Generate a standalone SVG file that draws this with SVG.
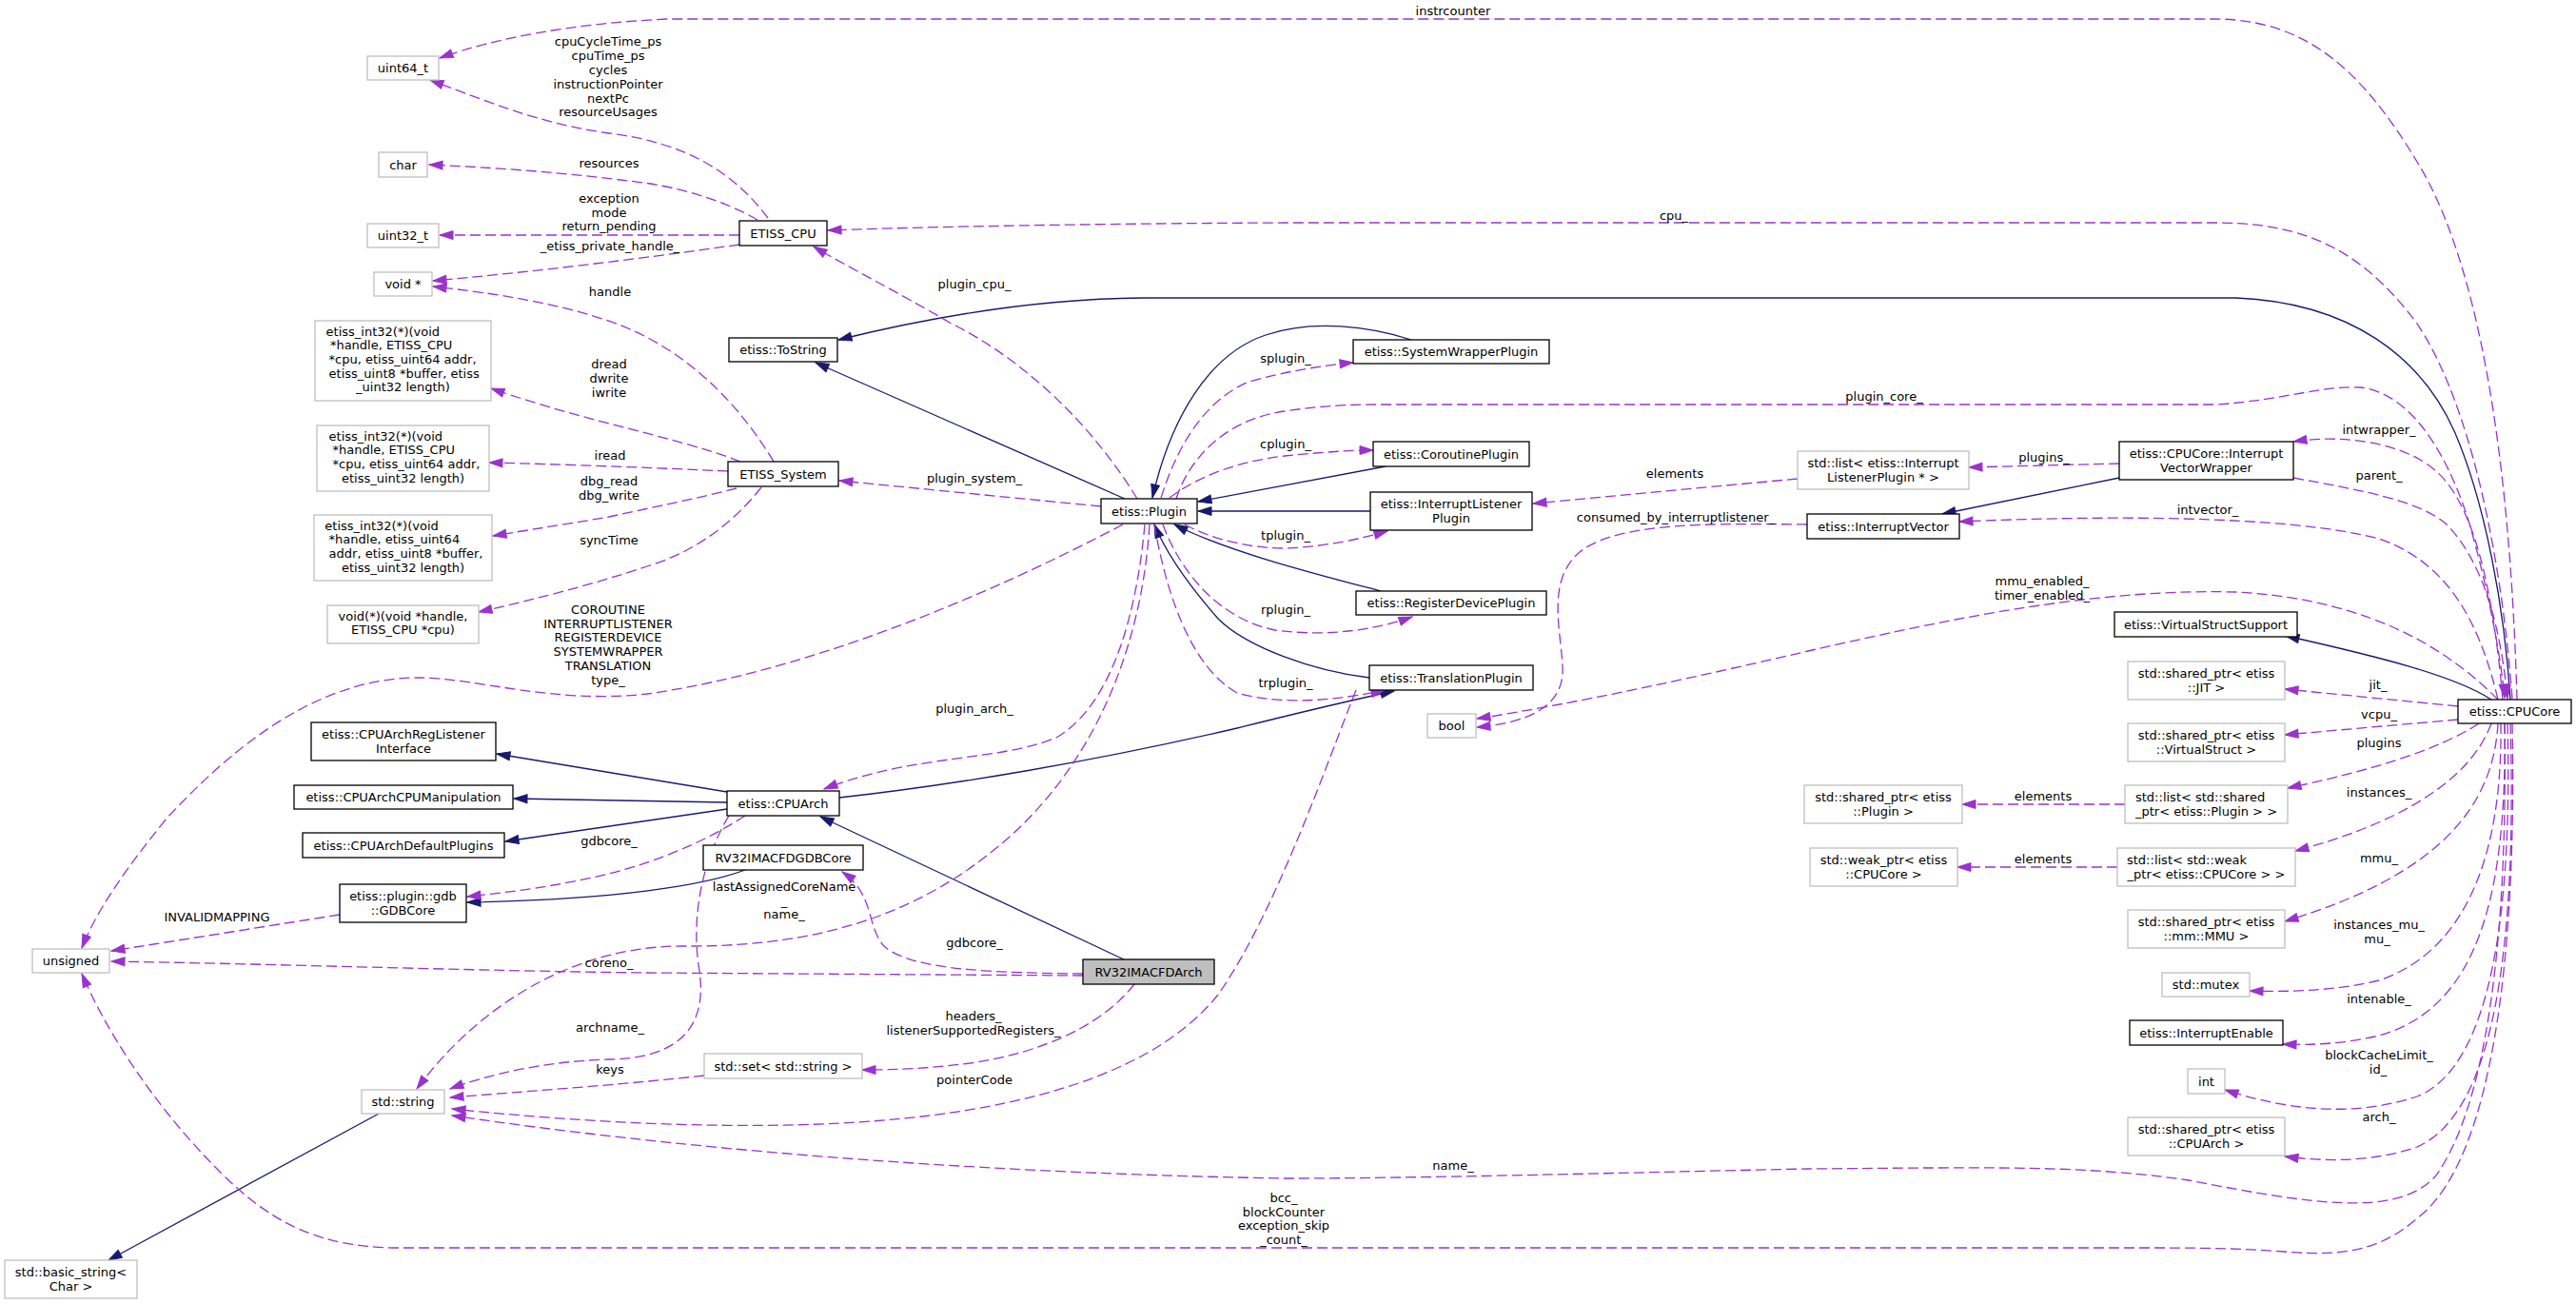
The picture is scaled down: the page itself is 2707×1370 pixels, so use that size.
<svg xmlns="http://www.w3.org/2000/svg" width="2707" height="1370" viewBox="0 0 2707 1370">
<defs>
<style>
text{font-family:"DejaVu Sans","Liberation Sans",sans-serif;font-size:13px;fill:#000}
.m{text-anchor:middle}
.nb{fill:#fff;stroke:#000;stroke-width:1.3}
.ng{fill:#fff;stroke:#bfbfbf;stroke-width:1.3}
.nh{fill:#bfbfbf;stroke:#000;stroke-width:1.3}
.u{fill:none;stroke:#9a32cd;stroke-width:1.3;stroke-dasharray:11,5;marker-end:url(#ap)}
.h{fill:none;stroke:#191970;stroke-width:1.3;marker-end:url(#ab)}
</style>
<marker id="ap" markerUnits="userSpaceOnUse" markerWidth="16" markerHeight="12" refX="14" refY="5" orient="auto" overflow="visible"><path d="M0,0.5 L14,5 L0,9.5 z" fill="#9a32cd" stroke="#9a32cd" stroke-width="1"/></marker>
<marker id="ab" markerUnits="userSpaceOnUse" markerWidth="16" markerHeight="12" refX="14" refY="5" orient="auto" overflow="visible"><path d="M0,0.5 L14,5 L0,9.5 z" fill="#191970" stroke="#191970" stroke-width="1"/></marker>
</defs>
<rect width="2707" height="1370" fill="#fff"/>
<g id="connectors">
<path class="h" d="M1182,524 L857,381"/>
<path class="h" d="M2638,735 C2632,640 2612,530 2580,455 C2545,375 2470,318 2350,313 L1200,313 C1100,314 990,330 881,357"/>
<path class="h" d="M1483,357 C1440,343 1380,335 1330,352 C1270,372 1230,440 1211,523"/>
<path class="h" d="M1456,490 L1259,527"/>
<path class="h" d="M1440,537 L1259,537"/>
<path class="h" d="M1451,621 C1390,605 1290,580 1234,551"/>
<path class="h" d="M1439,712 C1380,705 1310,680 1280,650 C1245,610 1225,580 1213,551"/>
<path class="h" d="M882,838 C1000,825 1150,800 1300,765 Q1400,740 1465,726"/>
<path class="h" d="M764,832 L522,792"/>
<path class="h" d="M764,843 L540,839"/>
<path class="h" d="M764,850 L531,884"/>
<path class="h" d="M1181,1008 L862,858"/>
<path class="h" d="M783,914 C740,930 650,945 491,948"/>
<path class="h" d="M398,1170 L114,1324"/>
<path class="h" d="M2227,502 L2041,540"/>
<path class="h" d="M2618,735 C2580,710 2500,690 2402,668"/>

<path class="u" d="M807,229 C770,180 720,150 640,140 C570,130 520,110 452,84"/>
<path class="u" d="M2645,735 C2640,560 2620,300 2540,170 C2480,70 2420,20 2327,20 L700,20 C600,25 520,40 462,61"/>
<path class="u" d="M796,231 C760,210 710,195 660,190 C600,182 520,176 451,173"/>
<path class="u" d="M777,247 L462,247"/>
<path class="u" d="M777,257 C720,265 600,282 455,295"/>
<path class="u" d="M813,485 C780,430 730,375 660,345 C600,320 520,308 455,301"/>
<path class="u" d="M778,485 C740,470 690,458 640,445 C590,432 550,420 516,408"/>
<path class="u" d="M765,495 C700,492 600,488 514,486"/>
<path class="u" d="M774,513 C740,522 690,532 640,543 C600,550 560,556 518,563"/>
<path class="u" d="M800,512 C770,550 730,580 680,595 C620,615 560,630 503,643"/>
<path class="u" d="M1195,524 C1150,450 1080,380 1000,340 C940,305 890,280 855,259"/>
<path class="u" d="M1157,532 L882,505"/>
<path class="u" d="M1220,523 C1240,460 1270,420 1310,402 C1350,390 1390,384 1422,381"/>
<path class="u" d="M1229,523 C1260,500 1300,485 1350,479 C1390,475 1420,473 1443,473"/>
<path class="u" d="M1236,524 C1250,480 1290,440 1350,432 C1390,426 1420,425 1450,425 L2330,425 C2400,420 2440,405 2480,407 C2530,412 2570,470 2595,550 C2615,620 2628,690 2632,733"/>
<path class="u" d="M1245,551 C1270,565 1310,576 1350,576 C1390,575 1430,566 1458,558"/>
<path class="u" d="M1222,551 C1240,600 1280,650 1340,662 C1400,670 1450,660 1484,648"/>
<path class="u" d="M1213,551 C1225,620 1250,700 1300,728 C1350,742 1410,735 1455,725"/>
<path class="u" d="M1180,551 C1040,625 850,705 680,729 C580,740 500,712 440,712 C330,712 240,790 175,860 C130,915 100,960 86,996"/>
<path class="u" d="M1203,551 C1195,640 1170,740 1110,775 C1050,800 960,792 866,829"/>
<path class="u" d="M1208,551 C1200,680 1150,800 1060,880 C980,950 880,995 720,994 C600,993 500,1060 438,1144"/>
<path class="u" d="M766,857 C740,900 725,960 735,1020 C745,1090 700,1112 640,1113 C570,1115 510,1130 473,1144"/>
<path class="u" d="M783,857 C740,885 690,905 640,918 C590,930 540,937 491,942"/>
<path class="u" d="M1138,1023 C1050,1022 960,1020 930,995 C910,975 920,940 885,916"/>
<path class="u" d="M1138,1025 L680,1022 C500,1020 300,1013 117,1010"/>
<path class="u" d="M1192,1034 C1160,1075 1100,1105 1020,1117 C970,1123 940,1124 906,1124"/>
<path class="u" d="M740,1130 C650,1140 560,1146 473,1153"/>
<path class="u" d="M1425,725 C1395,800 1340,960 1280,1045 C1220,1120 1100,1160 950,1175 C800,1190 620,1180 475,1165"/>
<path class="u" d="M2632,760 C2635,950 2620,1150 2560,1235 C2520,1280 2430,1265 2300,1240 C2200,1225 2100,1227 2020,1227 L1900,1228 C1700,1232 1500,1238 1350,1238 C1000,1232 700,1205 475,1172"/>
<path class="u" d="M2640,760 C2645,1000 2620,1220 2540,1280 C2500,1315 2460,1320 2400,1315 C2350,1311 2300,1311 2250,1311 L420,1311 C330,1311 280,1280 230,1230 C160,1160 110,1080 86,1023"/>
<path class="u" d="M357,961 L117,999"/>
<path class="u" d="M2640,734 C2630,600 2600,430 2540,340 C2480,260 2420,234 2327,234 L1350,234 C1150,235 980,238 870,242"/>
<path class="u" d="M2410,502 C2480,515 2540,525 2570,550 C2610,590 2628,660 2635,734"/>
<path class="u" d="M2630,735 C2620,620 2600,530 2560,495 C2530,468 2470,455 2410,464"/>
<path class="u" d="M2625,735 C2605,650 2570,590 2500,566 C2400,540 2200,542 2059,548"/>
<path class="u" d="M2625,735 C2580,690 2500,630 2350,622 C2200,618 2050,650 1900,684 C1780,712 1650,740 1552,755"/>
<path class="u" d="M1899,551 C1800,550 1700,548 1660,580 C1625,610 1640,660 1642,700 C1645,745 1600,760 1552,764"/>
<path class="u" d="M2227,487 L2069,491"/>
<path class="u" d="M1889,503 L1611,529"/>
<path class="u" d="M2583,742 L2401,724"/>
<path class="u" d="M2583,756 L2401,772"/>
<path class="u" d="M2605,760 C2560,790 2480,812 2404,828"/>
<path class="u" d="M2233,845 L2062,845"/>
<path class="u" d="M2618,760 C2600,810 2540,860 2412,894"/>
<path class="u" d="M2225,911 L2057,911"/>
<path class="u" d="M2625,760 C2620,850 2560,920 2401,968"/>
<path class="u" d="M2628,760 C2630,900 2590,1000 2500,1030 C2450,1042 2400,1042 2364,1041"/>
<path class="u" d="M2632,760 C2635,950 2600,1060 2500,1088 C2460,1097 2430,1098 2399,1097"/>
<path class="u" d="M2635,760 C2640,950 2620,1120 2540,1152 C2470,1175 2400,1165 2338,1145"/>
<path class="u" d="M2638,760 C2645,1000 2620,1170 2540,1205 C2490,1222 2440,1220 2401,1215"/>

<g class="m">
<text x="639" y="48">cpuCycleTime_ps</text>
<text x="639" y="63">cpuTime_ps</text>
<text x="639" y="78">cycles</text>
<text x="639" y="93">instructionPointer</text>
<text x="639" y="108">nextPc</text>
<text x="639" y="122">resourceUsages</text>
<text x="640" y="176">resources</text>
<text x="640" y="213">exception</text>
<text x="640" y="227.5">mode</text>
<text x="640" y="242">return_pending</text>
<text x="641" y="263">_etiss_private_handle_</text>
<text x="641" y="311">handle</text>
<text x="640" y="387">dread</text>
<text x="640" y="402">dwrite</text>
<text x="640" y="417">iwrite</text>
<text x="641" y="483">iread</text>
<text x="640" y="510">dbg_read</text>
<text x="640" y="525">dbg_write</text>
<text x="640" y="572">syncTime</text>
<text x="639" y="645">COROUTINE</text>
<text x="639" y="659.7">INTERRUPTLISTENER</text>
<text x="639" y="674.4">REGISTERDEVICE</text>
<text x="639" y="689.1">SYSTEMWRAPPER</text>
<text x="639" y="703.8">TRANSLATION</text>
<text x="639" y="718.5">type_</text>
<text x="640" y="888">gdbcore_</text>
<text x="228" y="968">INVALIDMAPPING</text>
<text x="640" y="1016">coreno_</text>
<text x="641" y="1084">archname_</text>
<text x="641" y="1128">keys</text>
<text x="1024" y="303">plugin_cpu_</text>
<text x="1024" y="507">plugin_system_</text>
<text x="1024" y="749">plugin_arch_</text>
<text x="824" y="936">lastAssignedCoreName</text>
<text x="824" y="950.7">_</text>
<text x="824" y="965.4">name_</text>
<text x="1024" y="995">gdbcore_</text>
<text x="1023" y="1072">headers_</text>
<text x="1023" y="1087">listenerSupportedRegisters_</text>
<text x="1024" y="1139">pointerCode</text>
<text x="1527" y="1229">name_</text>
<text x="1349" y="1263">bcc_</text>
<text x="1349" y="1277.7">blockCounter</text>
<text x="1349" y="1292.4">exception_skip</text>
<text x="1349" y="1307">_count_</text>
<text x="1527" y="16">instrcounter</text>
<text x="1759" y="231">cpu_</text>
<text x="1351" y="381">splugin_</text>
<text x="1980" y="421">plugin_core_</text>
<text x="1351" y="471">cplugin_</text>
<text x="1351" y="567">tplugin_</text>
<text x="1351" y="645">rplugin_</text>
<text x="1351" y="722">trplugin_</text>
<text x="1760" y="502">elements</text>
<text x="1761" y="548">consumed_by_interruptlistener_</text>
<text x="2500" y="456">intwrapper_</text>
<text x="2148" y="485">plugins_</text>
<text x="2500" y="504">parent_</text>
<text x="2320" y="540">intvector_</text>
<text x="2146" y="615">mmu_enabled_</text>
<text x="2146" y="630">timer_enabled_</text>
<text x="2499" y="724">jit_</text>
<text x="2500" y="755">vcpu_</text>
<text x="2500" y="785">plugins</text>
<text x="2147" y="841">elements</text>
<text x="2500" y="837">instances_</text>
<text x="2147" y="907">elements</text>
<text x="2500" y="906">mmu_</text>
<text x="2500" y="976">instances_mu_</text>
<text x="2498" y="991">mu_</text>
<text x="2500" y="1054">intenable_</text>
<text x="2500" y="1113">blockCacheLimit_</text>
<text x="2499" y="1128">id_</text>
<text x="2500" y="1178">arch_</text>
</g>
</g>

<g id="n_uint64"><rect class="ng" x="386" y="59" width="75" height="25"/><text class="m" x="423.5" y="76">uint64_t</text></g>
<g id="n_char"><rect class="ng" x="398" y="160" width="51" height="26"/><text class="m" x="423.5" y="177.5">char</text></g>
<g id="n_uint32"><rect class="ng" x="386" y="235" width="75" height="25"/><text class="m" x="423.5" y="252">uint32_t</text></g>
<g id="n_voidp"><rect class="ng" x="393" y="286" width="61" height="25"/><text class="m" x="423.5" y="303">void *</text></g>
<g id="n_fn1"><rect class="ng" x="331" y="337" width="185" height="84"/>
<text x="342.6" y="352.5">etiss_int32(*)(void</text>
<text x="346.9" y="367.2">*handle, ETISS_CPU</text>
<text x="345.6" y="381.9">*cpu, etiss_uint64 addr,</text>
<text x="345.6" y="396.6">etiss_uint8 *buffer, etiss</text>
<text class="m" x="423.5" y="411.3">_uint32 length)</text></g>
<g id="n_fn2"><rect class="ng" x="333" y="447" width="181" height="69"/>
<text x="345.6" y="462.5">etiss_int32(*)(void</text>
<text x="349.5" y="477.2">*handle, ETISS_CPU</text>
<text x="349.5" y="491.9">*cpu, etiss_uint64 addr,</text>
<text class="m" x="423.5" y="506.6">etiss_uint32 length)</text></g>
<g id="n_fn3"><rect class="ng" x="330" y="541" width="187" height="69"/>
<text x="341.3" y="556.5">etiss_int32(*)(void</text>
<text x="345.6" y="571.2">*handle, etiss_uint64</text>
<text x="345.6" y="585.9">addr, etiss_uint8 *buffer,</text>
<text class="m" x="423.5" y="600.6">etiss_uint32 length)</text></g>
<g id="n_fn4"><rect class="ng" x="344" y="636" width="159" height="40"/>
<text class="m" x="423.5" y="651.5">void(*)(void *handle,</text>
<text class="m" x="423.5" y="666.2">ETISS_CPU *cpu)</text></g>
<g id="n_reglist"><rect class="nb" x="327" y="759" width="194" height="40"/>
<text class="m" x="424" y="776">etiss::CPUArchRegListener</text>
<text class="m" x="424" y="790.7">Interface</text></g>
<g id="n_cpuman"><rect class="nb" x="309" y="825" width="230" height="25"/><text class="m" x="424" y="842">etiss::CPUArchCPUManipulation</text></g>
<g id="n_defplug"><rect class="nb" x="318" y="875" width="212" height="26"/><text class="m" x="424" y="892.5">etiss::CPUArchDefaultPlugins</text></g>
<g id="n_gdbcore"><rect class="nb" x="357" y="929" width="133" height="40"/>
<text class="m" x="423.5" y="946">etiss::plugin::gdb</text>
<text class="m" x="423.5" y="960.7">::GDBCore</text></g>
<g id="n_unsigned"><rect class="ng" x="34" y="997" width="81" height="25"/><text class="m" x="74.5" y="1014">unsigned</text></g>
<g id="n_string"><rect class="ng" x="380" y="1145" width="87" height="25"/><text class="m" x="423.5" y="1162">std::string</text></g>
<g id="n_basicstr"><rect class="ng" x="5" y="1324" width="139" height="40"/>
<text class="m" x="74.5" y="1341">std::basic_string&lt;</text>
<text class="m" x="74.5" y="1355.7">Char &gt;</text></g>
<g id="n_etisscpu"><rect class="nb" x="777" y="232" width="92" height="26"/><text class="m" x="823" y="249.5">ETISS_CPU</text></g>
<g id="n_tostring"><rect class="nb" x="766" y="355" width="114" height="25"/><text class="m" x="823" y="372">etiss::ToString</text></g>
<g id="n_system"><rect class="nb" x="765" y="485" width="116" height="26"/><text class="m" x="823" y="502.5">ETISS_System</text></g>
<g id="n_plugin"><rect class="nb" x="1157" y="524" width="101" height="26"/><text class="m" x="1207.5" y="541.5">etiss::Plugin</text></g>
<g id="n_cpuarch"><rect class="nb" x="764" y="831" width="118" height="26"/><text class="m" x="823" y="848.5">etiss::CPUArch</text></g>
<g id="n_rvgdb"><rect class="nb" x="739" y="888" width="168" height="26"/><text class="m" x="823" y="905.5">RV32IMACFDGDBCore</text></g>
<g id="n_rvarch"><rect class="nh" x="1138" y="1008" width="138" height="26"/><text class="m" x="1207" y="1025.5">RV32IMACFDArch</text></g>
<g id="n_set"><rect class="ng" x="740" y="1107" width="166" height="26"/><text class="m" x="823" y="1124.5">std::set&lt; std::string &gt;</text></g>
<g id="n_swp"><rect class="nb" x="1422" y="357" width="206" height="25"/><text class="m" x="1525" y="374">etiss::SystemWrapperPlugin</text></g>
<g id="n_corp"><rect class="nb" x="1443" y="464" width="164" height="26"/><text class="m" x="1525" y="481.5">etiss::CoroutinePlugin</text></g>
<g id="n_ilp"><rect class="nb" x="1440" y="517" width="170" height="40"/>
<text class="m" x="1525" y="534">etiss::InterruptListener</text>
<text class="m" x="1525" y="548.7">Plugin</text></g>
<g id="n_rdp"><rect class="nb" x="1425" y="621" width="200" height="25"/><text class="m" x="1525" y="638">etiss::RegisterDevicePlugin</text></g>
<g id="n_tp"><rect class="nb" x="1439" y="699" width="172" height="26"/><text class="m" x="1525" y="716.5">etiss::TranslationPlugin</text></g>
<g id="n_bool"><rect class="ng" x="1500" y="750" width="51" height="25"/><text class="m" x="1525.5" y="767">bool</text></g>
<g id="n_listilp"><rect class="ng" x="1889" y="474" width="180" height="40"/>
<text class="m" x="1979" y="491">std::list&lt; etiss::Interrupt</text>
<text class="m" x="1979" y="505.7">ListenerPlugin * &gt;</text></g>
<g id="n_iv"><rect class="nb" x="1899" y="540" width="160" height="26"/><text class="m" x="1979" y="557.5">etiss::InterruptVector</text></g>
<g id="n_spplug"><rect class="ng" x="1896" y="825" width="166" height="40"/>
<text class="m" x="1979" y="842">std::shared_ptr&lt; etiss</text>
<text class="m" x="1979" y="856.7">::Plugin &gt;</text></g>
<g id="n_wpcore"><rect class="ng" x="1902" y="891" width="155" height="40"/>
<text class="m" x="1979.5" y="908">std::weak_ptr&lt; etiss</text>
<text class="m" x="1979.5" y="922.7">::CPUCore &gt;</text></g>
<g id="n_ivw"><rect class="nb" x="2227" y="464" width="183" height="40"/>
<text class="m" x="2318.5" y="481">etiss::CPUCore::Interrupt</text>
<text class="m" x="2318.5" y="495.7">VectorWrapper</text></g>
<g id="n_vss"><rect class="nb" x="2222" y="643" width="192" height="26"/><text class="m" x="2318" y="660.5">etiss::VirtualStructSupport</text></g>
<g id="n_spjit"><rect class="ng" x="2236" y="695" width="165" height="40"/>
<text class="m" x="2318.5" y="712">std::shared_ptr&lt; etiss</text>
<text class="m" x="2318.5" y="726.7">::JIT &gt;</text></g>
<g id="n_cpucore"><rect class="nb" x="2583" y="735" width="119" height="25"/><text class="m" x="2642.5" y="752">etiss::CPUCore</text></g>
<g id="n_spvs"><rect class="ng" x="2236" y="760" width="165" height="40"/>
<text class="m" x="2318.5" y="777">std::shared_ptr&lt; etiss</text>
<text class="m" x="2318.5" y="791.7">::VirtualStruct &gt;</text></g>
<g id="n_listsp"><rect class="ng" x="2233" y="825" width="171" height="40"/>
<text x="2244" y="842">std::list&lt; std::shared</text>
<text class="m" x="2318.5" y="856.7">_ptr&lt; etiss::Plugin &gt; &gt;</text></g>
<g id="n_listwp"><rect class="ng" x="2225" y="891" width="187" height="40"/>
<text x="2235" y="908">std::list&lt; std::weak</text>
<text class="m" x="2318.5" y="922.7">_ptr&lt; etiss::CPUCore &gt; &gt;</text></g>
<g id="n_spmmu"><rect class="ng" x="2236" y="956" width="165" height="40"/>
<text class="m" x="2318.5" y="973">std::shared_ptr&lt; etiss</text>
<text class="m" x="2318.5" y="987.7">::mm::MMU &gt;</text></g>
<g id="n_mutex"><rect class="ng" x="2272" y="1022" width="92" height="25"/><text class="m" x="2318" y="1039">std::mutex</text></g>
<g id="n_ie"><rect class="nb" x="2238" y="1072" width="161" height="26"/><text class="m" x="2318.5" y="1089.5">etiss::InterruptEnable</text></g>
<g id="n_int"><rect class="ng" x="2299" y="1123" width="39" height="26"/><text class="m" x="2318.5" y="1140.5">int</text></g>
<g id="n_sparch"><rect class="ng" x="2236" y="1174" width="165" height="40"/>
<text class="m" x="2318.5" y="1191">std::shared_ptr&lt; etiss</text>
<text class="m" x="2318.5" y="1205.7">::CPUArch &gt;</text></g>
</svg>
